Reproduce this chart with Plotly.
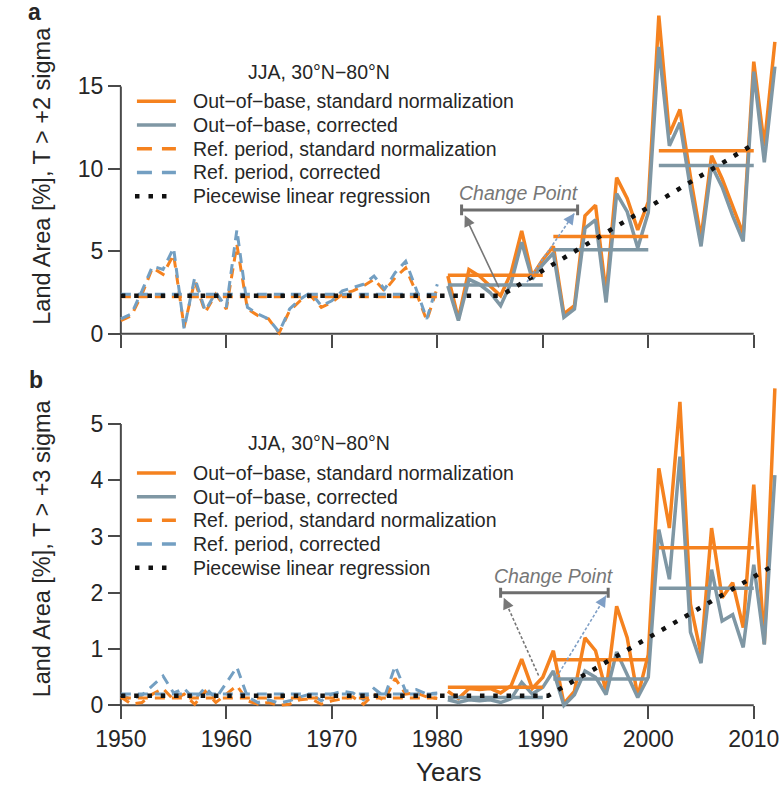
import plotly.graph_objects as go

# ---------------------------------------------------------------- data
years_ref = list(range(1950, 1981))
years_out = list(range(1981, 2013))

# (a) JJA land area 30N-80N with T > +2 sigma [%]
a_ref_std = [0.8, 1.1, 2.4, 4.0, 3.6, 4.8, 0.4, 3.2, 1.3, 2.4,
             1.5, 5.4, 1.5, 1.1, 0.9, 0.05, 1.4, 2.0, 2.3, 1.6,
             1.9, 2.4, 2.6, 2.9, 3.3, 2.6, 3.4, 4.0, 2.5, 0.8, 2.8]
a_ref_cor = [0.9, 1.2, 2.6, 4.1, 3.9, 5.2, 0.3, 3.4, 1.4, 2.5,
             1.6, 6.3, 1.6, 1.2, 0.9, 0.1, 1.5, 2.1, 2.5, 1.7,
             2.0, 2.6, 2.8, 3.0, 3.5, 2.7, 3.7, 4.4, 2.7, 0.9, 3.0]
a_out_std = [3.5, 0.9, 3.9, 3.5, 2.9, 2.3, 3.7, 6.24, 3.5, 4.5,
             5.3, 1.2, 1.7, 7.15, 7.8, 2.4, 9.47, 8.2, 6.3, 8.0,
             19.3, 12.1, 13.6, 9.5, 5.8, 10.8, 9.4, 7.75, 6.05, 16.5,
             11.4, 17.7]
a_out_cor = [2.9, 0.8, 3.3, 3.0, 2.5, 1.7, 3.1, 5.55, 3.3, 4.2,
             4.9, 1.0, 1.5, 6.4, 6.9, 1.9, 8.5, 7.4, 5.2, 7.35,
             17.4, 11.4, 12.8, 8.8, 5.3, 10.2, 8.9, 7.15, 5.6, 15.9,
             10.4, 16.2]

# (b) JJA land area 30N-80N with T > +3 sigma [%]
b_ref_std = [0.15, 0.02, 0.05, 0.2, 0.3, 0.1, 0.2, 0.02, 0.25, 0.05,
             0.2, 0.35, 0.08, 0.02, 0.05, 0.0, 0.02, 0.1, 0.12, 0.02,
             0.08, 0.12, 0.15, 0.02, 0.2, 0.08, 0.48, 0.2, 0.22, 0.15, 0.12]
b_ref_cor = [0.2, 0.1, 0.18, 0.35, 0.52, 0.22, 0.3, 0.1, 0.32, 0.12,
             0.4, 0.68, 0.15, 0.05, 0.1, 0.04, 0.08, 0.15, 0.2, 0.08,
             0.2, 0.25, 0.22, 0.1, 0.3, 0.15, 0.7, 0.25, 0.28, 0.2, 0.22]
b_out_std = [0.25, 0.12, 0.3, 0.28, 0.3, 0.22, 0.35, 0.82, 0.3, 0.5,
             0.97, 0.03, 0.25, 1.2, 0.97, 0.25, 1.76, 1.2, 0.16, 0.9,
             4.21, 3.15, 5.39, 1.8, 0.9, 3.15, 1.91, 2.18, 1.38, 3.92,
             1.09, 5.63]
b_out_cor = [0.1, 0.05, 0.1, 0.08, 0.1, 0.05, 0.12, 0.41, 0.2, 0.32,
             0.61, 0.0, 0.19, 0.61, 0.5, 0.19, 0.95, 0.56, 0.14, 0.5,
             3.12, 2.24, 4.42, 1.3, 0.75, 2.41, 1.5, 1.61, 1.03, 2.5,
             1.08, 4.09]

# period means (horizontal segments)
ref_period = [1950, 1980]
out_starts = [1981, 1991, 2001]
out_ends = [1990, 2000, 2010]
a_ref_std_mean = 2.25
a_ref_cor_mean = 2.4
a_out_std_mean = [3.55, 5.9, 11.1]
a_out_cor_mean = [2.95, 5.1, 10.2]
b_ref_std_mean = 0.13
b_ref_cor_mean = 0.2
b_out_std_mean = [0.32, 0.81, 2.80]
b_out_cor_mean = [0.14, 0.47, 2.08]

# piecewise linear regression knots
a_reg_years = [1950, 1986, 2010]
a_reg_vals = [2.3, 2.3, 11.5]
b_reg_years = [1950, 1990.5, 2012]
b_reg_vals = [0.17, 0.17, 2.5]

x_ticks = [1950, 1960, 1970, 1980, 1990, 2000, 2010]
a_ticks = [0, 5, 10, 15]
b_ticks = [0, 1, 2, 3, 4, 5]

legend_title = "JJA, 30°N−80°N"
legend_labels = ["Out−of−base, standard normalization",
                 "Out−of−base, corrected",
                 "Ref. period, standard normalization",
                 "Ref. period, corrected",
                 "Piecewise linear regression"]

# ---------------------------------------------------------------- style
ORANGE = "#f5821f"
GREY = "#7f97a4"
BLUE = "#739fc2"
BLACK = "#111111"
AXIS = "#4a4a4a"
TXT = "#262626"
FONT = "Liberation Sans, Arial, Helvetica, sans-serif"
DASH = "10px,7px"
DOTS = "4.5px,8.8px"

FIG_W, FIG_H = 783, 799


def fx(p):
    return p / FIG_W


def fy(p):
    return 1 - p / FIG_H


# pixel frame of the two panels
X0_PX, X_PER_YR = 103.5, 10.825
A_Y0_PX, A_PER = 335.0, 16.55
B_Y0_PX, B_PER = 708.0, 56.5
x_range = [1950 + (98 - X0_PX) / X_PER_YR, 1950 + (782 - X0_PX) / X_PER_YR]
a_range = [(A_Y0_PX - 345) / A_PER, (A_Y0_PX - 8) / A_PER]
b_range = [(B_Y0_PX - 718) / B_PER, (B_Y0_PX - 385) / B_PER]


def steps(starts, ends, levels):
    xs, ys = [], []
    for s, e, v in zip(starts, ends, levels):
        xs += [s, e, None]
        ys += [v, v, None]
    return xs, ys


fig = go.Figure()


def add_panel(xa, ya, ref_std, ref_cor, out_std, out_cor,
              ref_std_m, ref_cor_m, out_std_m, out_cor_m, reg_x, reg_y):
    kw = dict(xaxis=xa, yaxis=ya, mode="lines", hoverinfo="skip")
    fig.add_trace(go.Scatter(x=years_ref, y=ref_std,
                             line=dict(color=ORANGE, width=3, dash=DASH), **kw))
    fig.add_trace(go.Scatter(x=years_ref, y=ref_cor,
                             line=dict(color=BLUE, width=3, dash=DASH), **kw))
    fig.add_trace(go.Scatter(x=ref_period, y=[ref_std_m] * 2,
                             line=dict(color=ORANGE, width=3, dash=DASH), **kw))
    fig.add_trace(go.Scatter(x=ref_period, y=[ref_cor_m] * 2,
                             line=dict(color=BLUE, width=3, dash=DASH), **kw))
    fig.add_trace(go.Scatter(x=years_out, y=out_std,
                             line=dict(color=ORANGE, width=3.5), **kw))
    fig.add_trace(go.Scatter(x=years_out, y=out_cor,
                             line=dict(color=GREY, width=3.5), **kw))
    sx, sy = steps(out_starts, out_ends, out_std_m)
    fig.add_trace(go.Scatter(x=sx, y=sy, line=dict(color=ORANGE, width=3.5), **kw))
    sx, sy = steps(out_starts, out_ends, out_cor_m)
    fig.add_trace(go.Scatter(x=sx, y=sy, line=dict(color=GREY, width=3.5), **kw))
    fig.add_trace(go.Scatter(x=reg_x, y=reg_y,
                             line=dict(color=BLACK, width=4.5, dash=DOTS), **kw))


add_panel("x", "y", a_ref_std, a_ref_cor, a_out_std, a_out_cor,
          a_ref_std_mean, a_ref_cor_mean, a_out_std_mean, a_out_cor_mean,
          a_reg_years, a_reg_vals)
add_panel("x2", "y2", b_ref_std, b_ref_cor, b_out_std, b_out_cor,
          b_ref_std_mean, b_ref_cor_mean, b_out_std_mean, b_out_cor_mean,
          b_reg_years, b_reg_vals)

tick_common = dict(ticks="outside", ticklen=13, tickwidth=2, tickcolor=AXIS,
                   showline=False, showgrid=False, zeroline=False,
                   tickfont=dict(family=FONT, size=23, color=TXT))
xdom = [fx(98), fx(782)]
fig.update_layout(
    xaxis=dict(domain=xdom, range=x_range, anchor="free", position=fy(A_Y0_PX),
               tickvals=x_ticks, showticklabels=False, **tick_common),
    yaxis=dict(domain=[fy(345), fy(8)], range=a_range, anchor="free",
               position=fx(X0_PX), tickvals=a_ticks, **tick_common),
    xaxis2=dict(domain=xdom, range=x_range, anchor="free", position=fy(B_Y0_PX),
                tickvals=x_ticks, **tick_common),
    yaxis2=dict(domain=[fy(718), fy(385)], range=b_range, anchor="free",
                position=fx(X0_PX), tickvals=b_ticks, **tick_common),
)

shapes = []
annotations = []

# axis spines bounded by the outer ticks
for xr, yr, ytop in (("x", "y", a_ticks[-1]), ("x2", "y2", b_ticks[-1])):
    shapes.append(dict(type="line", xref=xr, yref=yr, x0=x_ticks[0], x1=x_ticks[-1],
                       y0=0, y1=0, line=dict(color=AXIS, width=2), layer="below"))
    shapes.append(dict(type="line", xref=xr, yref=yr, x0=x_ticks[0], x1=x_ticks[0],
                       y0=0, y1=ytop, line=dict(color=AXIS, width=2), layer="below"))

# hand-drawn legends
legend_styles = [
    dict(color=ORANGE, width=3.5, dash="solid"),
    dict(color=GREY, width=3.5, dash="solid"),
    dict(color=ORANGE, width=3.5, dash="15px,10px"),
    dict(color=BLUE, width=3.5, dash="15px,10px"),
    dict(color=BLACK, width=4.5, dash="4.5px,9px"),
]
for dy in (0, 373):
    annotations.append(dict(text=legend_title, xref="paper", yref="paper",
                            x=fx(307), y=fy(72 + dy), showarrow=False,
                            xanchor="center", yanchor="middle",
                            font=dict(family=FONT, size=19.5, color=TXT)))
    for i, (lab, st) in enumerate(zip(legend_labels, legend_styles)):
        row = 101.7 + 23.8 * i + dy
        x0 = 118 if i == 4 else 120
        x1 = 152 if i == 4 else 160
        shapes.append(dict(type="line", xref="paper", yref="paper",
                           x0=fx(x0), x1=fx(x1), y0=fy(row), y1=fy(row), line=st))
        annotations.append(dict(text=lab, xref="paper", yref="paper",
                                x=fx(175), y=fy(row), showarrow=False,
                                xanchor="left", yanchor="middle",
                                font=dict(family=FONT, size=19.5, color=TXT)))

# axis titles and panel letters
annotations += [
    dict(text="Land Area [%], T > +2 sigma", xref="paper", yref="paper",
         x=fx(23), y=fy(176), textangle=-90, showarrow=False,
         xanchor="center", yanchor="middle",
         font=dict(family=FONT, size=23.5, color=TXT)),
    dict(text="Land Area [%], T > +3 sigma", xref="paper", yref="paper",
         x=fx(23), y=fy(550), textangle=-90, showarrow=False,
         xanchor="center", yanchor="middle",
         font=dict(family=FONT, size=23.5, color=TXT)),
    dict(text="Years", xref="paper", yref="paper", x=fx(440), y=fy(775),
         showarrow=False, xanchor="center", yanchor="middle",
         font=dict(family=FONT, size=26, color=TXT)),
    dict(text="<b>a</b>", xref="paper", yref="paper", x=fx(15), y=fy(12),
         showarrow=False, xanchor="center", yanchor="middle",
         font=dict(family=FONT, size=23, color=TXT)),
    dict(text="<b>b</b>", xref="paper", yref="paper", x=fx(16), y=fy(381),
         showarrow=False, xanchor="center", yanchor="middle",
         font=dict(family=FONT, size=23, color=TXT)),
]

# change-point markers
CP_GREY = "#777777"
CP_BLUE = "#7f9fc6"


def change_point(xr, yr, text_xy, bar_x, bar_y, cap, left, right, left_dotted):
    annotations.append(dict(text="<i>Change Point</i>", xref=xr, yref=yr,
                            x=text_xy[0], y=text_xy[1], showarrow=False,
                            xanchor="center", yanchor="middle",
                            font=dict(family=FONT, size=19.5, color=CP_GREY)))
    shapes.append(dict(type="line", xref=xr, yref=yr, x0=bar_x[0], x1=bar_x[1],
                       y0=bar_y, y1=bar_y, line=dict(color="#6e6e6e", width=3)))
    for bx in bar_x:
        shapes.append(dict(type="line", xref=xr, yref=yr, x0=bx, x1=bx,
                           y0=bar_y - cap, y1=bar_y + cap,
                           line=dict(color="#6e6e6e", width=3)))
    for (tail, head), color, dotted in ((left, CP_GREY, left_dotted),
                                        (right, CP_BLUE, True)):
        if dotted:
            shapes.append(dict(type="line", xref=xr, yref=yr,
                               x0=tail[0], y0=tail[1], x1=head[0], y1=head[1],
                               line=dict(color=color, width=1.6, dash="3px,2px")))
            near = (head[0] + 0.12 * (tail[0] - head[0]),
                    head[1] + 0.12 * (tail[1] - head[1]))
        else:
            near = tail
        annotations.append(dict(text="", xref=xr, yref=yr, axref=xr, ayref=yr,
                                x=head[0], y=head[1], ax=near[0], ay=near[1],
                                showarrow=True, arrowhead=2, arrowsize=1.4,
                                arrowwidth=1.6, arrowcolor=color))


change_point("x", "y", (1987.7, 8.56), (1982.3, 1993.3), 7.51, 0.33,
             ((1985.9, 2.72), (1982.6, 7.19)), ((1988.5, 3.14), (1993.0, 7.31)),
             False)
change_point("x2", "y2", (1991.1, 2.30), (1986.0, 1996.2), 2.0, 0.09,
             ((1989.6, 0.53), (1986.3, 1.91)), ((1991.3, 0.50), (1996.0, 1.95)),
             True)

fig.update_layout(
    width=FIG_W, height=FIG_H, margin=dict(l=0, r=0, t=0, b=0),
    paper_bgcolor="white", plot_bgcolor="white", showlegend=False,
    shapes=shapes, annotations=annotations,
    font=dict(family=FONT, color=TXT),
)

fig.write_html("out.html")
